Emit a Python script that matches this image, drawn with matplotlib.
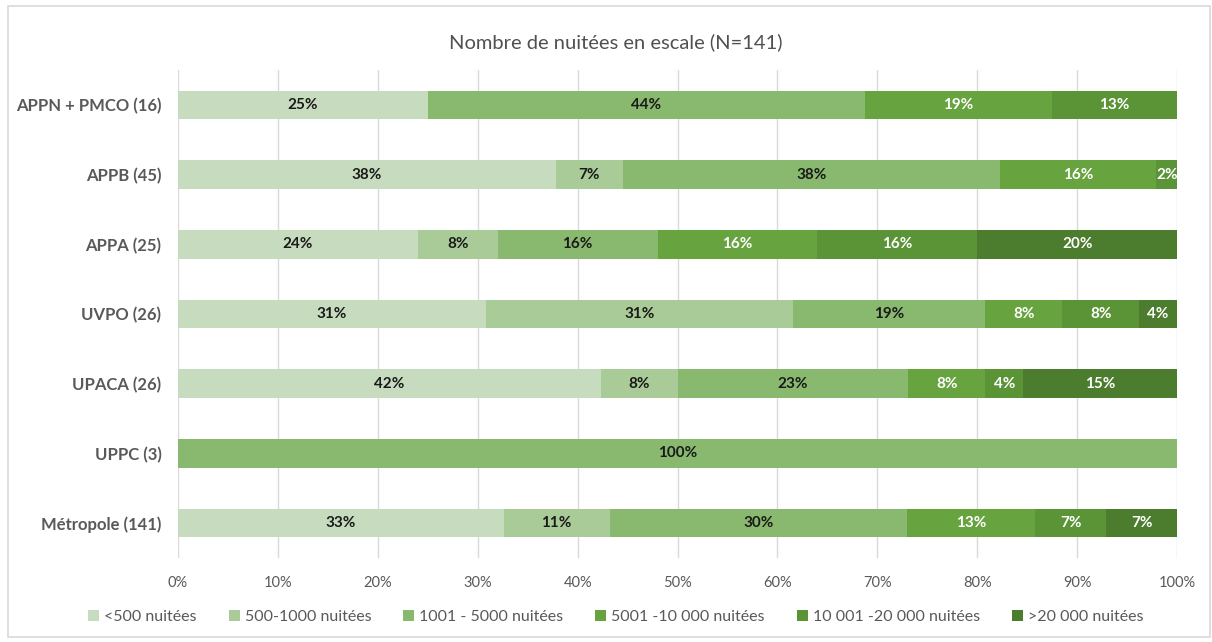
import matplotlib.pyplot as plt
from matplotlib.patches import Rectangle

plt.rcParams['font.family'] = ['Lato', 'DejaVu Sans']

# Categories (top to bottom)
categories = ["APPN + PMCO (16)", "APPB (45)", "APPA (25)", "UVPO (26)",
              "UPACA (26)", "UPPC (3)", "Métropole (141)"]

series_names = ["<500 nuitées", "500-1000 nuitées", "1001 - 5000 nuitées",
                "5001 -10 000 nuitées", "10 001 -20 000 nuitées", ">20 000 nuitées"]

# Shares (%) per category, in the order of series_names
lt500 =      [25.0, 37.8, 24.0, 30.8, 42.3, 0.0, 32.6]
s500_1000 =  [0.0, 6.7, 8.0, 30.8, 7.7, 0.0, 10.6]
s1001_5000 = [43.75, 37.8, 16.0, 19.2, 23.1, 100.0, 29.8]
s5001_10k =  [18.75, 15.6, 16.0, 7.7, 7.7, 0.0, 12.8]
s10k_20k =   [12.5, 2.2, 16.0, 7.7, 3.8, 0.0, 7.1]
gt20k =      [0.0, 0.0, 20.0, 3.8, 15.4, 0.0, 7.1]

colors = ["#c7dcbf", "#a9cb97", "#89b96f", "#67a33f", "#5b9337", "#4c7c2d"]
label_colors = ["#1a1a1a", "#1a1a1a", "#1a1a1a", "white", "white", "white"]

fig = plt.figure(figsize=(12.12, 6.42), dpi=100)
ax = fig.add_axes([0.1469, 0.1308, 0.8243, 0.7602])

# outer chart border
fig.patches.append(Rectangle((8 / 1212, 5 / 642), 1202 / 1212, 631 / 642,
                             transform=fig.transFigure, fill=False,
                             edgecolor="#d9d9d9", linewidth=1.2))

ypos = list(range(len(categories)))
left = [0.0] * len(categories)
all_series = [lt500, s500_1000, s1001_5000, s5001_10k, s10k_20k, gt20k]
for name, vals, col, lcol in zip(series_names, all_series, colors, label_colors):
    ax.barh(ypos, vals, left=left, height=0.41, color=col, label=name, zorder=2)
    for y, v, l in zip(ypos, vals, left):
        if v > 0:
            ax.text(l + v / 2, y, f"{int(v + 0.5)}%", ha="center", va="center",
                    color=lcol, fontsize=11, fontweight="bold", zorder=3)
    left = [a + b for a, b in zip(left, vals)]

ax.set_xlim(0, 100)
ax.set_ylim(len(categories) - 0.5, -0.5)
ax.set_yticks(ypos)
ax.set_yticklabels(categories, fontsize=12, fontweight="bold", color="#595959")
ax.set_xticks(range(0, 101, 10))
ax.set_xticklabels([f"{t}%" for t in range(0, 101, 10)], fontsize=10.5, color="#595959")
ax.tick_params(axis="both", length=0)
ax.tick_params(axis="x", pad=13)
ax.tick_params(axis="y", pad=12)
ax.grid(axis="x", color="#d9d9d9", linewidth=1, zorder=0)
for s in ax.spines.values():
    s.set_visible(False)

fig.text(0.508, 1 - 42 / 642, "Nombre de nuitées en escale (N=141)", ha="center",
         va="center", fontsize=14.5, color="#505050")

fig.legend(loc="center", bbox_to_anchor=(0.508, 1 - 617 / 642), ncol=6,
           frameon=False, fontsize=11.5, handlelength=0.7, handleheight=0.7,
           handletextpad=0.3, columnspacing=2.0, labelcolor="#595959")

fig.savefig("out.png", dpi=100)
